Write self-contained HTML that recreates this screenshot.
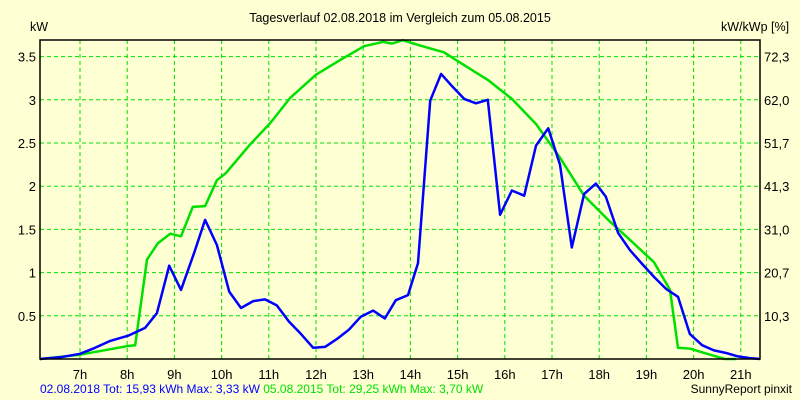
<!DOCTYPE html>
<html><head><meta charset="utf-8"><style>
html,body{margin:0;padding:0;background:#ffffd4;}
svg{display:block;font-family:"Liberation Sans",sans-serif;}
</style></head><body>
<svg id="chart" width="800" height="400" viewBox="0 0 800 400">
<rect x="0" y="0" width="800" height="400" fill="#ffffd4"/>
<text x="400" y="22" font-size="12.5" text-anchor="middle">Tagesverlauf 02.08.2018 im Vergleich zum 05.08.2015</text>
<text x="30" y="31" font-size="12.5">kW</text>
<text x="721" y="31" font-size="12.5">kW/kWp [%]</text>
<g id="grid"></g>
<g id="series"></g>
<rect x="40" y="40" width="720" height="319" fill="none" stroke="#000" stroke-width="1.5"/>
<g id="labels"></g>
<text x="40" y="393" font-size="12" fill="#0000ff">02.08.2018 Tot: 15,93 kWh Max: 3,33 kW <tspan fill="#00e000">05.08.2015 Tot: 29,25 kWh Max: 3,70 kW</tspan></text>
<text x="792" y="393" font-size="12" text-anchor="end">SunnyReport pinxit</text>
</svg>
<script>
const hourTicks = [7,8,9,10,11,12,13,14,15,16,17,18,19,20,21];
const yTicks = [0.5,1,1.5,2,2.5,3,3.5];
const yTickLabels = ["0.5","1","1.5","2","2.5","3","3.5"];
const rightTickLabels = ["10,3","20,7","31,0","41,3","51,7","62,0","72,3"];
const times2018 = [6.15,6.58,7,7.32,7.64,8.02,8.38,8.63,8.89,9.14,9.42,9.65,9.9,10.16,10.41,10.67,10.92,11.17,11.43,11.68,11.94,12.19,12.44,12.7,12.95,13.21,13.46,13.69,13.95,14.16,14.42,14.65,14.88,15.14,15.39,15.64,15.9,16.15,16.41,16.66,16.92,17.17,17.42,17.68,17.93,18.14,18.4,18.65,18.91,19.16,19.42,19.67,19.92,20.18,20.43,20.69,20.94,21.19,21.41];
const values2018 = [0,0.02,0.06,0.13,0.21,0.27,0.36,0.53,1.08,0.80,1.23,1.61,1.32,0.78,0.59,0.67,0.69,0.62,0.43,0.29,0.13,0.14,0.23,0.34,0.49,0.56,0.47,0.68,0.74,1.11,2.99,3.30,3.16,3.01,2.96,3.0,1.67,1.95,1.89,2.47,2.67,2.25,1.29,1.91,2.03,1.88,1.46,1.26,1.1,0.95,0.81,0.72,0.29,0.16,0.1,0.07,0.03,0.01,0];
const times2015 = [6.15,7,8.02,8.17,8.42,8.65,8.91,9.14,9.39,9.65,9.9,10.09,10.6,11.03,11.45,12,12.51,13.02,13.42,13.61,13.84,14.2,14.71,15.14,15.64,16.15,16.66,17.17,17.68,18.19,18.65,19.16,19.5,19.67,19.92,20.35,20.66,20.9];
const values2015 = [0,0.05,0.15,0.16,1.15,1.34,1.45,1.42,1.76,1.77,2.07,2.15,2.48,2.73,3.02,3.29,3.46,3.62,3.67,3.65,3.69,3.63,3.55,3.40,3.23,3.01,2.72,2.33,1.89,1.61,1.38,1.12,0.8,0.13,0.12,0.05,0,0];

const NS="http://www.w3.org/2000/svg";
const xs = h => 80 + (h-7)*47.2;
const ys = v => 359 - v*86.4;
function mk(tag, attrs, parent){const e=document.createElementNS(NS,tag);for(const k in attrs)e.setAttribute(k,attrs[k]);parent.appendChild(e);return e;}
const grid=document.getElementById('grid'), labels=document.getElementById('labels'), series=document.getElementById('series');
hourTicks.forEach(h=>{
  const l=mk('line',{x1:xs(h),x2:xs(h),y1:40,y2:359,stroke:'#00e000','stroke-dasharray':'4,3','stroke-width':1},grid);
  
  
  const t=mk('text',{x:xs(h),y:379,'font-size':13,'text-anchor':'middle'},labels);
  t.textContent=h+'h';
  
  
});
yTicks.forEach((v,i)=>{
  const l=mk('line',{x1:40,x2:760,y1:ys(v),y2:ys(v),stroke:'#00e000','stroke-dasharray':'4,3','stroke-width':1},grid);
  
  
  const t=mk('text',{x:36,y:ys(v)+5,'font-size':13,'text-anchor':'end'},labels);
  t.textContent=yTickLabels[i];
  
  
  const r=mk('text',{x:764,y:ys(v)+5,'font-size':13},labels);
  r.textContent=rightTickLabels[i];
  
  
});
function line(ts,vs,color,name){
  const d=ts.map((t,i)=>(i?'L':'M')+xs(t).toFixed(1)+','+ys(vs[i]).toFixed(1)).join(' ');
  const p=mk('path',{d:d,fill:'none',stroke:color,'stroke-width':2.5,'stroke-linejoin':'round'},series);
  
  
}
line(times2015,values2015,'#00e000','series-2015-line');
line(times2018,values2018,'#0000ff','series-2018-line');
</script>
</body></html>
